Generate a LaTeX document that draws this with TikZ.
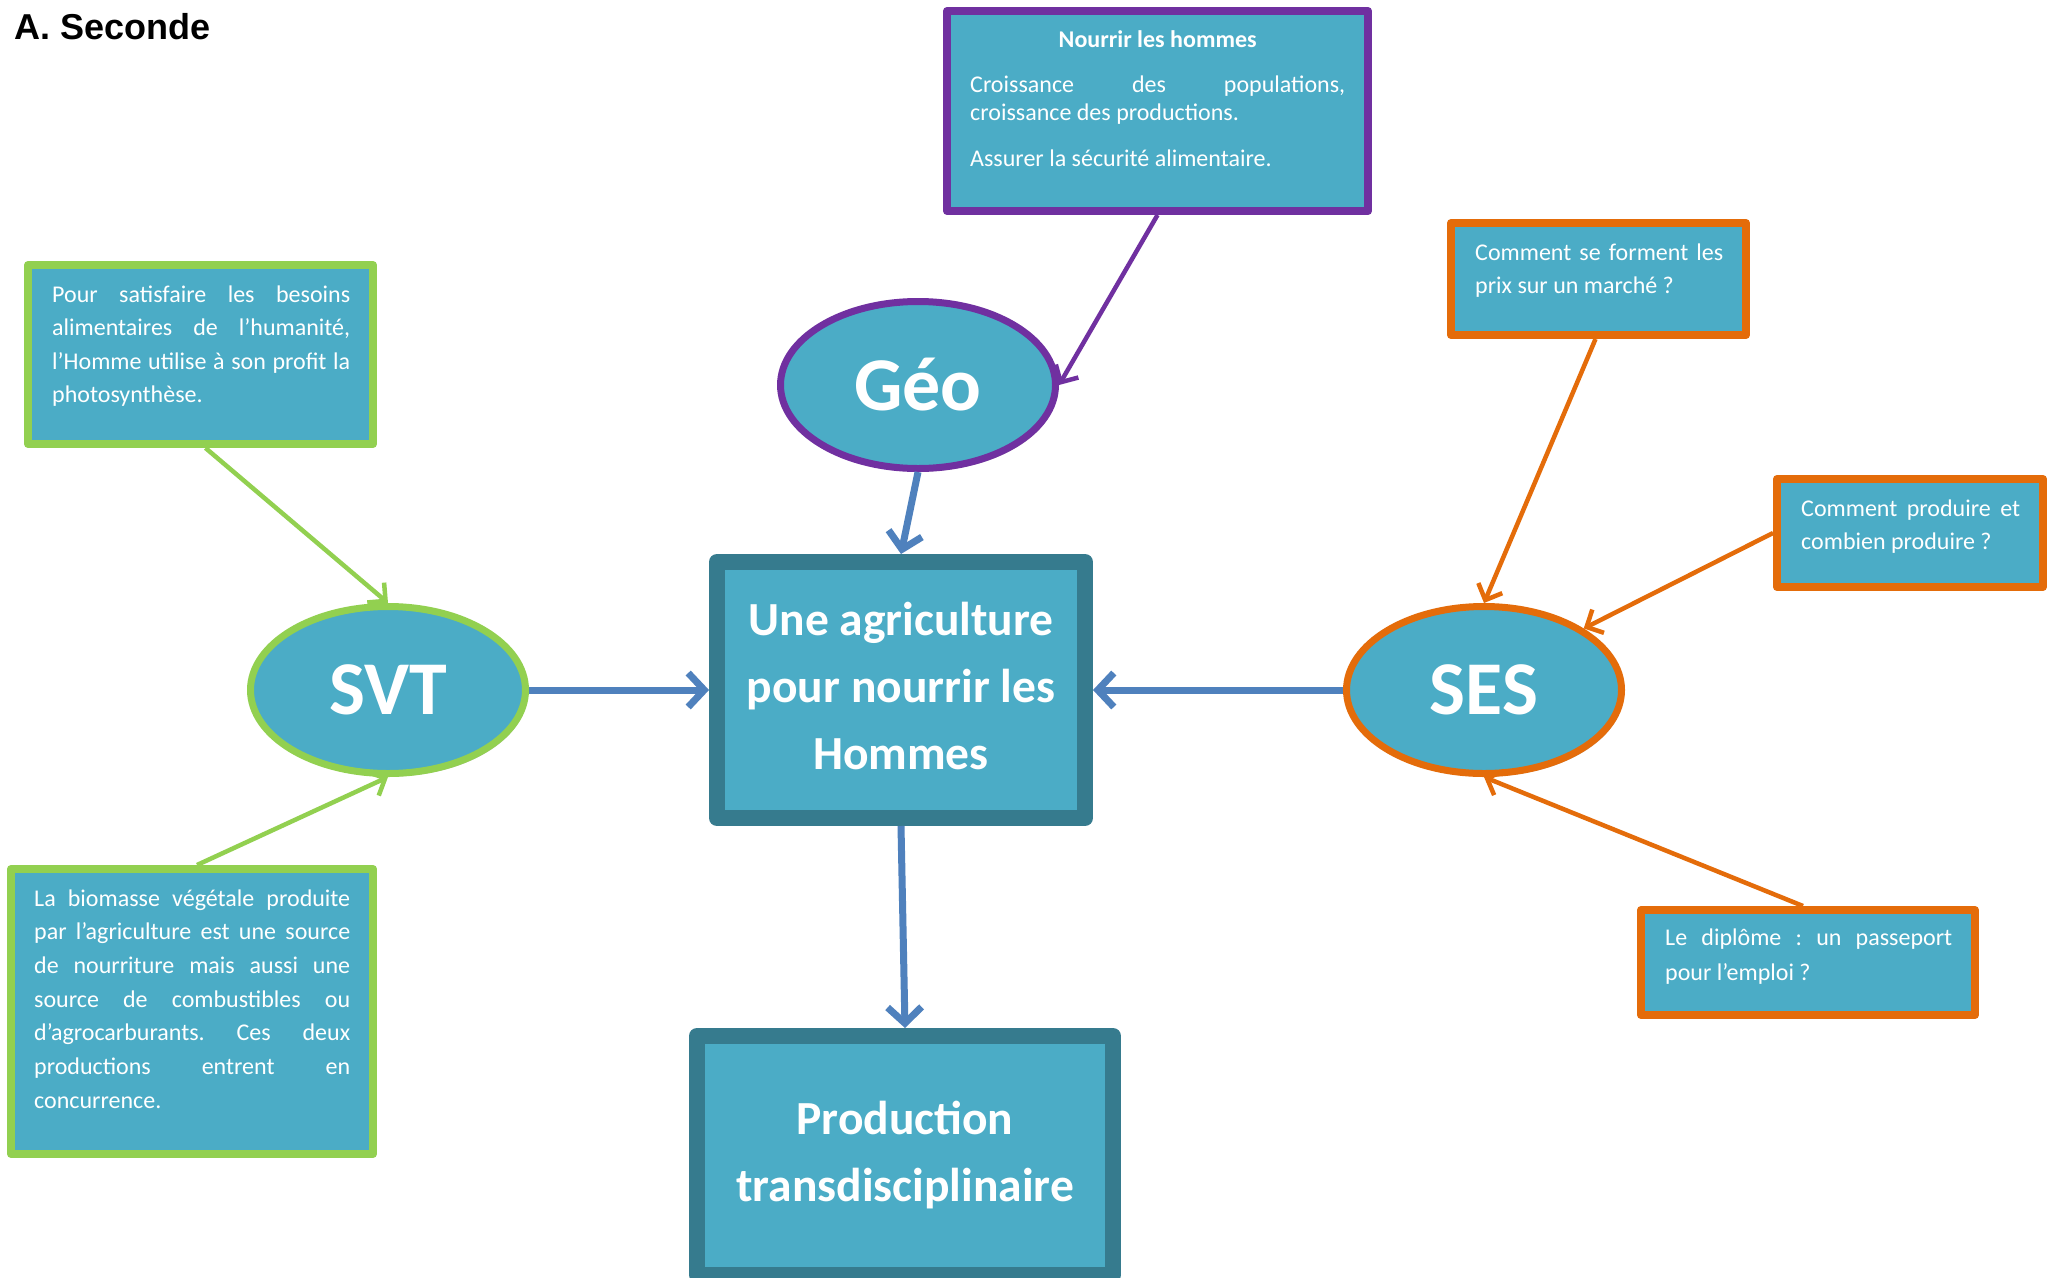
\documentclass[tikz,border=0pt]{standalone}
\usepackage{fontspec}
\setmainfont{Carlito}
\newfontfamily\headfont{Liberation Sans}
\usetikzlibrary{arrows.meta,shapes.geometric,shadows}

% justified note texts: no hyphenation, stretched lines allowed
\hyphenpenalty=10000
\exhyphenpenalty=10000
\tolerance=10000
\hbadness=10000
\frenchspacing

\definecolor{boxfill}{HTML}{4BACC6}
\definecolor{tealedge}{HTML}{367B8E}
\definecolor{geopurple}{HTML}{7030A0}
\definecolor{svtgreen}{HTML}{92D050}
\definecolor{sesorange}{HTML}{E46C0A}
\definecolor{linkblue}{HTML}{4F81BD}

% plain justified paragraphs, last line flush left
\newcommand\fulljustify{\leftskip=0pt\relax\rightskip=0pt\relax
  \parfillskip=0pt plus 1fil\relax\spaceskip=0pt\relax\xspaceskip=0pt\relax}

\tikzset{
  softshadow/.style={drop shadow={shadow xshift=2pt, shadow yshift=-3pt, opacity=0.22, fill=black}},
  notebox/.style={rectangle, fill=boxfill, line width=8pt, line join=round, inner sep=0pt, softshadow},
  mainbox/.style={rectangle, fill=boxfill, draw=tealedge, line width=16pt, line join=round,
    inner sep=0pt, softshadow, text=white, align=center,
    font=\fontsize{47.5}{67}\selectfont\bfseries},
  subject/.style={ellipse, fill=boxfill, line width=7pt, inner sep=0pt,
    minimum width=275pt, minimum height=167pt, softshadow, text=white,
    font=\fontsize{76}{80}\selectfont\bfseries},
  notetext/.style={anchor=base west, inner sep=0pt, text=white, align=justify,
    font=\fontsize{24}{33.6}\selectfont},
  link/.style={draw=linkblue, line width=7pt, -{Straight Barb[length=16pt,width=34pt]}},
  feed/.style={line width=4.5pt, -{Straight Barb[length=13pt,width=26pt]}},
}

\begin{document}
\begin{tikzpicture}[x=1pt,y=-1pt]
\fill[white] (0,0) rectangle (2060,1277);
\useasboundingbox (0,0) rectangle (2060,1277);

% heading
\node[anchor=base west, inner sep=0pt, font=\headfont\bfseries\fontsize{36}{42}\selectfont]
  (heading) at (14,39) {A. Seconde};

% central boxes
\node[mainbox, minimum width=368pt, minimum height=256pt] (core) at (901,690)
  {Une agriculture\\pour nourrir les\\Hommes\rule[-8pt]{0pt}{8pt}};
\node[mainbox, minimum width=416pt, minimum height=239pt] (prod) at (905,1155.5)
  {Production\\transdisciplinaire};

% subjects
\node[subject, draw=geopurple] (geo) at (918,385) {Géo};
\node[subject, draw=svtgreen] (svt) at (388,690) {SVT};
\node[subject, draw=sesorange] (ses) at (1484,690) {SES};

% note boxes
\node[notebox, draw=geopurple, minimum width=421pt, minimum height=200pt] (nourrir) at (1157.5,111) {};
\node[notebox, draw=svtgreen, minimum width=345pt, minimum height=179pt] (photo) at (200.5,354.5) {};
\node[notebox, draw=svtgreen, minimum width=362pt, minimum height=285pt] (biomasse) at (192,1011.5) {};
\node[notebox, draw=sesorange, minimum width=295pt, minimum height=112pt] (prix) at (1598.5,279) {};
\node[notebox, draw=sesorange, minimum width=266pt, minimum height=108pt] (produire) at (1910,533) {};
\node[notebox, draw=sesorange, minimum width=334pt, minimum height=105pt] (diplome) at (1808,962.5) {};

% note texts
\node[notetext, text width=375pt, font=\fontsize{24}{28}\selectfont] (nourrirtxt) at (970,47)
  {\setlength\parskip{17.5pt}{\centering\bfseries Nourrir les hommes\par}
   \fulljustify Croissance des populations,\linebreak croissance des productions.\par
   Assurer la sécurité alimentaire.};
\node[notetext, text width=298pt] (phototxt) at (52,302)
  {\fulljustify Pour satisfaire les besoins\linebreak alimentaires de l’humanité,\linebreak
   l’Homme utilise à son profit la\linebreak photosynthèse.};
\node[notetext, text width=316pt, font=\fontsize{24}{33.7}\selectfont] (biomassetxt) at (34,906)
  {\fulljustify La biomasse végétale produite\linebreak par l’agriculture est une source\linebreak
   de nourriture mais aussi une\linebreak source de combustibles ou\linebreak
   d’agrocarburants. Ces deux\linebreak productions entrent en\linebreak concurrence.};
\node[notetext, text width=248pt, font=\fontsize{24}{33}\selectfont] (prixtxt) at (1475,260)
  {\fulljustify Comment se forment les\linebreak prix sur un marché ?};
\node[notetext, text width=219pt, font=\fontsize{24}{33}\selectfont] (produiretxt) at (1801,516)
  {\fulljustify Comment produire et\linebreak combien produire ?};
\node[notetext, text width=287pt, font=\fontsize{24}{35}\selectfont] (diplometxt) at (1665,945)
  {\fulljustify Le diplôme : un passeport\linebreak pour l’emploi ?};

% connectors into the central box
\draw[link] (geo.south) -- (core.north);
\draw[link] (svt.east) -- (core.west);
\draw[link] (ses.west) -- (core.east);
\draw[link] (core.south) -- (prod.north);

% connectors from the notes to the subjects
\draw[feed, geopurple] (nourrir.south) -- (geo.east);
\draw[feed, svtgreen] ([xshift=5pt]photo.south) -- (svt.north);
\draw[feed, svtgreen] ([xshift=5pt]biomasse.north) -- (svt.south);
\draw[feed, sesorange] ([xshift=-3pt]prix.south) -- (ses.north);
\draw[feed, sesorange] (produire.west) -- (ses.north east);
\draw[feed, sesorange] ([xshift=-5pt]diplome.north) -- (ses.south);
\end{tikzpicture}
\end{document}
